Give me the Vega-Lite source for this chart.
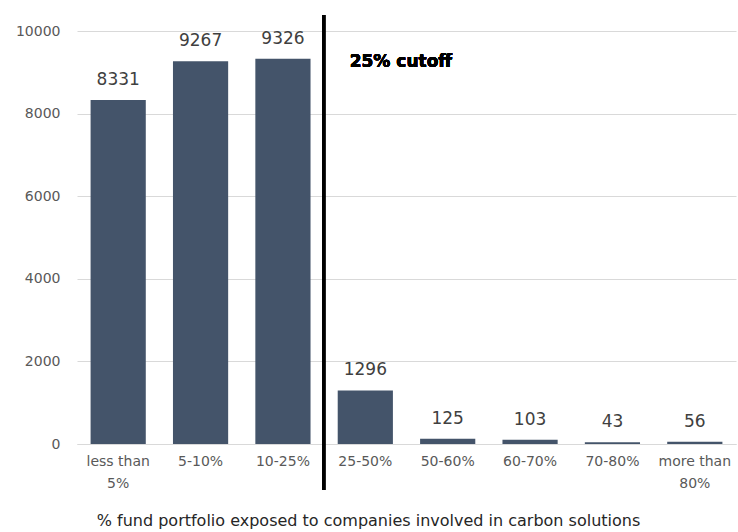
{
  "$schema": "https://vega.github.io/schema/vega-lite/v6.json",
  "width": 659,
  "height": 413,
  "autosize": {"type": "none"},
  "padding": {"left": 77, "top": 31, "right": 2, "bottom": 88},
  "config": {
    "view": {"stroke": null},
    "font": "DejaVu Sans"
  },
  "data": {
    "values": [
      {"category": "less than 5%", "count": 8331},
      {"category": "5-10%", "count": 9267},
      {"category": "10-25%", "count": 9326},
      {"category": "25-50%", "count": 1296},
      {"category": "50-60%", "count": 125},
      {"category": "60-70%", "count": 103},
      {"category": "70-80%", "count": 43},
      {"category": "more than 80%", "count": 56}
    ]
  },
  "encoding": {
    "x": {
      "field": "category",
      "type": "nominal",
      "sort": null,
      "scale": {"paddingInner": 0.33, "paddingOuter": 0.165},
      "axis": {
        "title": "% fund portfolio exposed to companies involved in carbon solutions",
        "titleFont": "DejaVu Sans",
        "titleFontSize": 16,
        "titleFontWeight": "normal",
        "titleColor": "#262626",
        "titleX": 291,
        "titleY": 76,
        "titleAlign": "center",
        "titleBaseline": "middle",
        "labelAngle": 0,
        "labelFont": "DejaVu Sans",
        "labelFontSize": 14,
        "labelColor": "#595959",
        "labelPadding": 10,
        "labelLineHeight": 22,
        "labelExpr": "indexof(datum.label,'than ')>0 ? [substring(datum.label,0,9), substring(datum.label,10)] : datum.label",
        "ticks": false,
        "domainColor": "#d9d9d9",
        "labelOverlap": false
      }
    }
  },
  "layer": [
    {
      "mark": {"type": "bar", "color": "#44546A"},
      "encoding": {
        "y": {
          "field": "count",
          "type": "quantitative",
          "scale": {"domain": [0, 10000], "nice": false},
          "axis": {
            "title": null,
            "values": [0, 2000, 4000, 6000, 8000, 10000],
            "format": "d",
            "domain": false,
            "ticks": false,
            "gridColor": "#d9d9d9",
            "labelFont": "DejaVu Sans",
            "labelColor": "#595959",
            "labelFontSize": 14,
            "labelPadding": 17
          }
        }
      }
    },
    {
      "mark": {"type": "text", "font": "DejaVu Sans", "fontSize": 17, "color": "#404040", "baseline": "middle", "dy": -20},
      "encoding": {
        "y": {"field": "count", "type": "quantitative"},
        "text": {"field": "count", "type": "quantitative", "format": "d"}
      }
    },
    {
      "mark": {"type": "rule", "color": "black", "strokeWidth": 3, "xOffset": -14},
      "encoding": {
        "x": {"datum": "25-50%", "bandPosition": 0},
        "y": {"datum": 10390},
        "y2": {"datum": -1115}
      }
    },
    {
      "mark": {"type": "text", "font": "DejaVu Sans", "fontSize": 17, "fontWeight": "bold", "color": "black", "align": "left", "baseline": "middle", "dx": 12},
      "encoding": {
        "x": {"datum": "25-50%", "bandPosition": 0},
        "y": {"datum": 9250},
        "text": {"value": "25% cutoff"}
      }
    }
  ]
}
